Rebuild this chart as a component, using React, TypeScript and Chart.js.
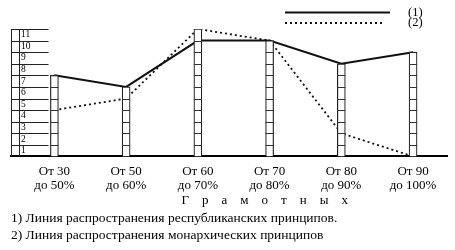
import React, { useEffect, useRef } from 'react';
import { Chart, registerables } from 'chart.js';

Chart.register(...registerables);

const categories: string[][] = [
  ['От 30', 'до 50%'],
  ['От 50', 'до 60%'],
  ['От 60', 'до 70%'],
  ['От 70', 'до 80%'],
  ['От 80', 'до 90%'],
  ['От 90', 'до 100%'],
];
const republican = [7, 6, 10, 10, 8, 9];
const monarchic = [4, 5, 11, 10, 2, 0];
const ladderHeights = [7, 6, 11, 10, 8, 9];
const yTicks = [1, 2, 3, 4, 5, 6, 7, 8, 9, 10, 11];
const seriesLabels = ['(1)', '(2)'];
const axisTitle = 'Г р а м о т н ы х';
const captions = [
  '1) Линия распространения республиканских принципов.',
  '2) Линия распространения монархических принципов',
];

const SERIF = "'Liberation Serif', 'Times New Roman', serif";

const ladderPlugin = {
  id: 'ladderRungs',
  beforeDatasetsDraw(chart: any) {
    const { ctx, chartArea } = chart;
    const y = chart.scales.y;
    ctx.save();
    ctx.strokeStyle = '#222';
    ctx.lineWidth = 1;
    const top = y.getPixelForValue(yTicks[yTicks.length - 1]);
    const bottom = y.getPixelForValue(0);
    const l = Math.round(chartArea.left) + 0.5;
    ctx.beginPath();
    ctx.moveTo(l, top);
    ctx.lineTo(l, bottom);
    ctx.moveTo(l + 8, top);
    ctx.lineTo(l + 8, bottom);
    ctx.stroke();
    yTicks.forEach((v) => {
      const py = Math.round(y.getPixelForValue(v)) + 0.5;
      ctx.beginPath();
      ctx.moveTo(l, py);
      ctx.lineTo(l + 37, py);
      ctx.stroke();
    });
    ctx.restore();
  },
  afterDatasetsDraw(chart: any) {
    const { ctx } = chart;
    const y = chart.scales.y;
    const meta = chart.getDatasetMeta(0);
    ctx.save();
    ctx.strokeStyle = '#333';
    ctx.lineWidth = 1;
    meta.data.forEach((bar: any, i: number) => {
      const { x, width } = bar.getProps(['x', 'width'], true);
      const h = ladderHeights[i];
      for (let k = 1; k < h; k++) {
        const py = Math.round(y.getPixelForValue(k)) + 0.5;
        ctx.beginPath();
        ctx.moveTo(x - width / 2, py);
        ctx.lineTo(x + width / 2, py);
        ctx.stroke();
      }
    });
    ctx.restore();
  },
};

const legendPlugin = {
  id: 'customLegend',
  afterDraw(chart: any) {
    const { ctx, chartArea } = chart;
    const items = [chart.data.datasets[1], chart.data.datasets[2]];
    const x0 = chartArea.right - 162;
    const ends = [chartArea.right - 57, chartArea.right - 65];
    const ys = [12.5, 23];
    ctx.save();
    items.forEach((ds: any, i: number) => {
      ctx.strokeStyle = ds.borderColor;
      ctx.lineWidth = ds.borderWidth;
      ctx.setLineDash(ds.borderDash || []);
      ctx.beginPath();
      ctx.moveTo(x0, ys[i]);
      ctx.lineTo(ends[i], ys[i]);
      ctx.stroke();
      ctx.setLineDash([]);
      ctx.fillStyle = '#000';
      ctx.font = `12.5px ${SERIF}`;
      ctx.textBaseline = 'middle';
      ctx.textAlign = 'left';
      ctx.fillText(ds.label, chartArea.right - 39, ys[i]);
    });
    ctx.restore();
  },
};

export default function App() {
  const ref = useRef<HTMLCanvasElement | null>(null);
  useEffect(() => {
    if (!ref.current) return;
    const chart = new Chart(ref.current, {
      type: 'bar',
      data: {
        datasets: [
          {
            type: 'bar',
            label: 'ladder',
            data: ladderHeights.map((v, i) => ({ x: i, y: v })),
            backgroundColor: '#ffffff',
            borderColor: '#222',
            borderWidth: 1.2,
            barThickness: 8,
            order: 0,
          } as any,
          {
            type: 'line',
            label: seriesLabels[0],
            data: republican.map((v, i) => ({ x: i, y: v })),
            borderColor: '#111',
            borderWidth: 2,
            pointRadius: 0,
            tension: 0,
            order: 1,
          },
          {
            type: 'line',
            label: seriesLabels[1],
            data: monarchic.map((v, i) => ({ x: i, y: v })),
            borderColor: '#111',
            borderWidth: 1.8,
            borderDash: [2, 3],
            pointRadius: 0,
            tension: 0,
            order: 2,
          },
        ],
      },
      options: {
        responsive: false,
        animation: false,
        devicePixelRatio: 1,
        layout: { padding: { left: 11, right: 8, top: 29, bottom: 0 } },
        scales: {
          x: {
            type: 'linear',
            offset: false,
            min: -0.605,
            max: 5.473,
            afterBuildTicks: (scale: any) => {
              scale.ticks = categories.map((_, i) => ({ value: i }));
            },
            ticks: {
              callback: (v: any) => categories[v] ?? '',
              font: { family: SERIF, size: 13, lineHeight: 1.1 },
              color: '#000',
              padding: 8,
              maxRotation: 0,
              autoSkip: false,
            },
            grid: { display: false, drawTicks: false },
            border: { display: true, color: '#000', width: 2 },
            title: {
              display: true,
              text: ' '.repeat(22) + axisTitle.split(' ').join('    '),
              font: { family: SERIF, size: 13, lineHeight: 1.15 },
              color: '#000',
              padding: { top: -8, bottom: 0 },
            },
          },
          y: {
            type: 'linear',
            min: 0,
            max: 11,
            afterBuildTicks: (scale: any) => {
              scale.ticks = yTicks.map((v) => ({ value: v }));
            },
            afterFit: (scale: any) => {
              scale.width = 0;
            },
            ticks: {
              mirror: true,
              padding: 10,
              labelOffset: 5.75,
              autoSkip: false,
              font: { family: SERIF, size: 9.5 },
              color: '#000',
              callback: (v: any) => String(v),
            },
            grid: { display: false, drawTicks: false },
            border: { display: false },
          },
        },
        plugins: {
          legend: { display: false },
          tooltip: { enabled: false },
          title: {
            display: true,
            position: 'bottom',
            align: 'start',
            text: captions,
            color: '#000',
            font: { family: SERIF, size: 13.5, weight: 'normal', lineHeight: 17 / 13.5 },
            padding: { top: 2, bottom: 6 },
          },
        },
      },
      plugins: [ladderPlugin, legendPlugin],
    });
    return () => chart.destroy();
  }, []);
  return (
    <div style={{ position: 'absolute', left: 0, top: 0, width: 455, height: 250, background: '#fff' }}>
      <canvas ref={ref} width={455} height={250} style={{ width: 455, height: 250 }} />
    </div>
  );
}
